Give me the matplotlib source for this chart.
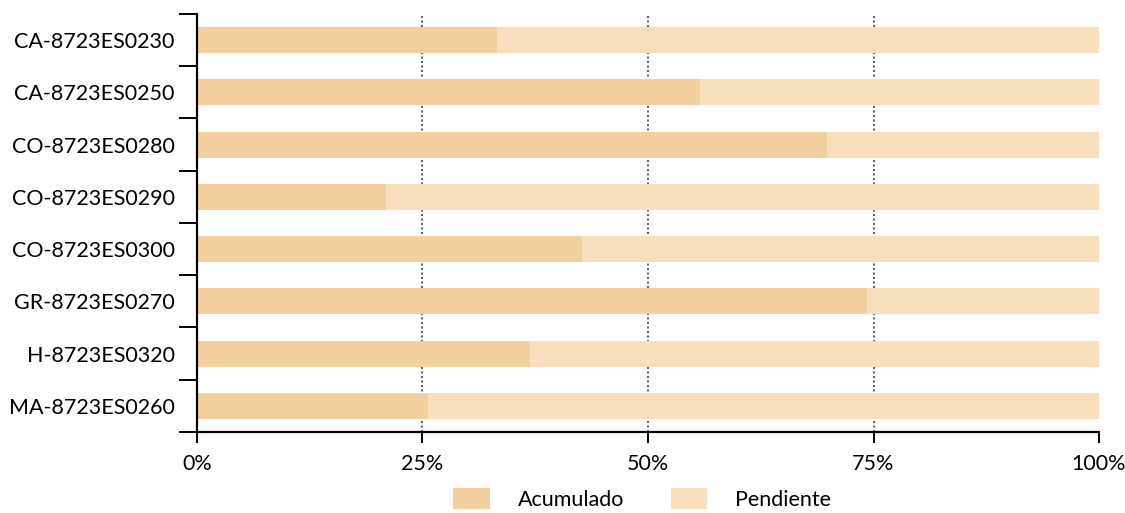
import matplotlib.pyplot as plt
from matplotlib.patches import Patch
import numpy as np

categories = ["CA-8723ES0230", "CA-8723ES0250", "CO-8723ES0280", "CO-8723ES0290",
              "CO-8723ES0300", "GR-8723ES0270", "H-8723ES0320", "MA-8723ES0260"]
acumulado = [33.3, 55.8, 69.8, 21.0, 42.7, 74.3, 36.9, 25.6]
pendiente = [100 - a for a in acumulado]
xticks = [0, 25, 50, 75, 100]
xticklabels = ["0%", "25%", "50%", "75%", "100%"]

col_acum = "#F3CF9F"
col_pend = "#F7DFBD"

plt.rcParams["font.family"] = ["Lato", "DejaVu Sans"]
fs = 15.5

fig = plt.figure(figsize=(11.25, 5.13), dpi=100)
ax = fig.add_axes([0.1751, 0.158, 0.8018, 0.8147])

y = np.arange(len(categories))
ax.barh(y, acumulado, height=0.5, color=col_acum, zorder=2)
ax.barh(y, pendiente, left=acumulado, height=0.5, color=col_pend, zorder=2)

ax.set_xlim(0, 100)
ax.set_ylim(len(categories) - 0.5, -0.5)

ax.set_xticks(xticks)
ax.set_xticklabels(xticklabels, fontsize=fs)
ax.set_yticks(y)
ax.set_yticklabels(categories, fontsize=fs)
ax.set_yticks(np.arange(len(categories) + 1) - 0.5, minor=True)
ax.tick_params(axis="y", which="major", length=0, pad=16)
ax.tick_params(axis="y", which="minor", length=13, width=1.4, color="black")
ax.tick_params(axis="x", which="major", length=8, width=1.4, pad=8)

for x in [25, 50, 75]:
    ax.axvline(x, color="#444444", linestyle=(0, (1.2, 1.5)), linewidth=1.2, zorder=1)

for s in ["top", "right"]:
    ax.spines[s].set_visible(False)
ax.spines["left"].set_linewidth(1.6)
ax.spines["bottom"].set_linewidth(1.6)

handles = [Patch(facecolor=col_acum, label="Acumulado"),
           Patch(facecolor=col_pend, label="Pendiente")]
fig.legend(handles=handles, loc="center", bbox_to_anchor=(0.571, 0.027), ncol=2,
           frameon=False, fontsize=fs, handlelength=1.7, handleheight=1.1,
           handletextpad=1.3, columnspacing=2.15, borderpad=0)

fig.savefig("out.png", dpi=100)
